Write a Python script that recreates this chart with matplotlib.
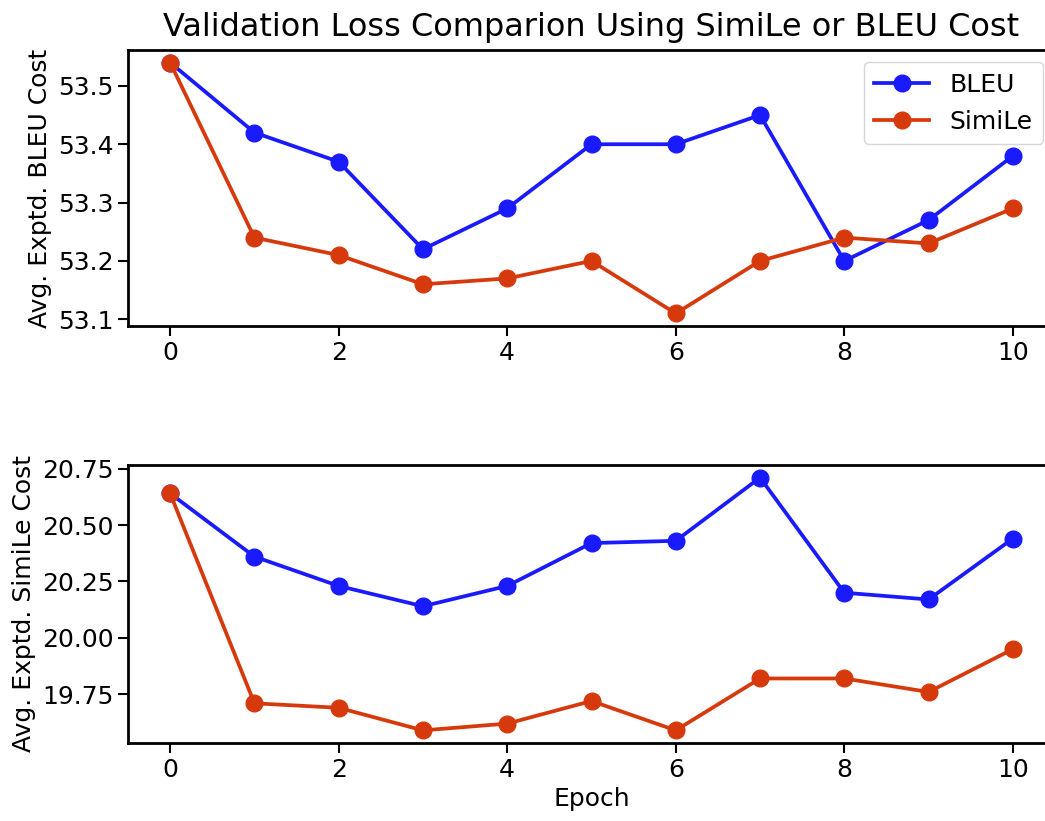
import numpy as np
import matplotlib
matplotlib.use("Agg")
import matplotlib.pyplot as plt

epochs = list(range(11))

# top panel: avg expected BLEU cost
bleu_top = [53.54, 53.42, 53.37, 53.22, 53.29, 53.40, 53.40, 53.45, 53.20, 53.27, 53.38]
simile_top = [53.54, 53.24, 53.21, 53.16, 53.17, 53.20, 53.11, 53.20, 53.24, 53.23, 53.29]

# bottom panel: avg expected SimiLe cost
bleu_bot = [20.64, 20.36, 20.23, 20.14, 20.23, 20.42, 20.43, 20.71, 20.20, 20.17, 20.44]
simile_bot = [20.64, 19.71, 19.69, 19.59, 19.62, 19.72, 19.59, 19.82, 19.82, 19.76, 19.95]

blue = '#1a1aff'
red = '#d63a0c'

plt.rcParams['font.family'] = 'DejaVu Sans'
plt.rcParams['font.size'] = 18
plt.rcParams['axes.linewidth'] = 2.0
plt.rcParams['xtick.major.size'] = 7
plt.rcParams['ytick.major.size'] = 7
plt.rcParams['xtick.major.width'] = 1.5
plt.rcParams['ytick.major.width'] = 1.5

fig = plt.figure(figsize=(10.45, 8.21), dpi=100)
W, H = 1045.0, 821.0
ax1 = fig.add_axes([128 / W, 1 - 326 / H, (1055 - 128) / W, (326 - 50) / H])
ax2 = fig.add_axes([128 / W, 1 - 743 / H, (1055 - 128) / W, (743 - 465) / H])

lw, ms = 2.7, 12
ax1.plot(epochs, bleu_top, '-o', color=blue, lw=lw, ms=ms, label='BLEU')
ax1.plot(epochs, simile_top, '-o', color=red, lw=lw, ms=ms, label='SimiLe')
ax1.set_ylabel('Avg. Exptd. BLEU Cost')
ax1.set_title('Validation Loss Comparion Using SimiLe or BLEU Cost', fontsize=23, pad=10)
ax1.set_yticks([53.1, 53.2, 53.3, 53.4, 53.5])
ax1.set_xticks([0, 2, 4, 6, 8, 10])
ax1.legend(loc='upper right', borderaxespad=0.5, labelspacing=0.55, handlelength=2.2)

ax2.plot(epochs, bleu_bot, '-o', color=blue, lw=lw, ms=ms)
ax2.plot(epochs, simile_bot, '-o', color=red, lw=lw, ms=ms)
ax2.set_ylabel('Avg. Exptd. SimiLe Cost')
ax2.set_xlabel('Epoch')
ax2.set_yticks([19.75, 20.0, 20.25, 20.5, 20.75])
ax2.set_xticks([0, 2, 4, 6, 8, 10])

fig.savefig('out.png', dpi=100)
